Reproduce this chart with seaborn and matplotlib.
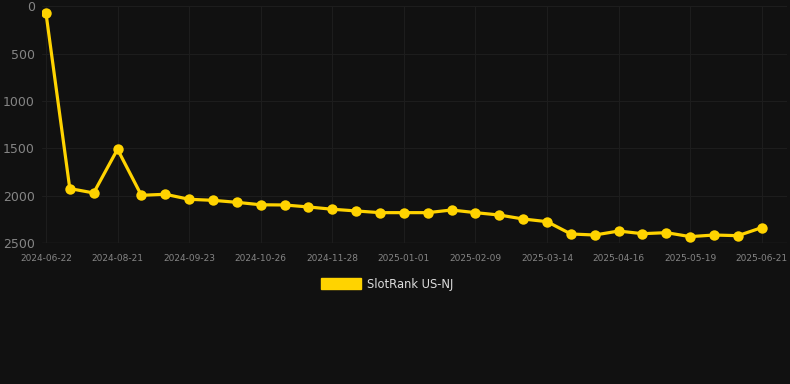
import pandas as pd
import numpy as np
import matplotlib.pyplot as plt
import seaborn as sns
from matplotlib.patches import Patch

# one point every ~3 weeks, only every third date is labelled on the chart
dates = [
    '2024-06-22', '2024-07-12', '2024-08-01', '2024-08-21', '2024-09-01', '2024-09-12',
    '2024-09-23', '2024-10-04', '2024-10-15', '2024-10-26', '2024-11-06', '2024-11-17',
    '2024-11-28', '2024-12-09', '2024-12-20', '2025-01-01', '2025-01-14', '2025-01-27',
    '2025-02-09', '2025-02-20', '2025-03-03', '2025-03-14', '2025-03-25', '2025-04-05',
    '2025-04-16', '2025-04-27', '2025-05-08', '2025-05-19', '2025-05-30', '2025-06-10',
    '2025-06-21',
]
ranks = [
    70, 1925, 1971, 1510, 1996, 1985, 2038, 2049, 2070, 2096,
    2098, 2119, 2143, 2161, 2179, 2179, 2179, 2151, 2179, 2204,
    2246, 2274, 2404, 2415, 2373, 2401, 2390, 2432, 2415, 2422,
    2337,
]
series_name = 'SlotRank US-NJ'

df = pd.DataFrame({'date': dates, 'rank': ranks})
df['pos'] = np.arange(len(df))

bg = '#111111'
gold = '#ffd300'
grid = '#1d1d1d'
txt = '#858585'

sns.set_style('dark')
plt.rcParams['font.family'] = ['DejaVu Sans']

fig = plt.figure(figsize=(7.9, 3.84), dpi=100, facecolor=bg)
ax = fig.add_axes([0.053, 0.367, 0.943, 0.617])
ax.set_facecolor(bg)

sns.lineplot(data=df, x='pos', y='rank', ax=ax, color=gold, linewidth=2.3,
             marker='o', markersize=7.5, markeredgewidth=0, legend=False)

ax.set_ylim(2500, 0)
ax.set_yticks([0, 500, 1000, 1500, 2000, 2500])
ax.set_xlim(-0.17, 31.05)
ax.set_xticks(df['pos'][::3])
ax.set_xticklabels(df['date'][::3])

ax.grid(True, color=grid, linewidth=0.8)
ax.set_axisbelow(True)
for s in ax.spines.values():
    s.set_visible(False)
ax.axhline(2500, color='#2a2a2a', linewidth=1, zorder=0)

ax.tick_params(axis='y', colors=txt, labelsize=9, length=0, pad=5)
ax.tick_params(axis='x', colors=txt, labelsize=6.5, length=0, pad=8)
ax.set_xlabel('')
ax.set_ylabel('')

handle = Patch(facecolor=gold, edgecolor=gold, label=series_name)
leg = fig.legend(handles=[handle], loc='center', bbox_to_anchor=(0.49, 0.26),
                 frameon=False, fontsize=8.3, handlelength=3.5, handleheight=1.1,
                 handletextpad=0.5)
for t in leg.get_texts():
    t.set_color('#dddddd')

fig.savefig('out.png', dpi=100, facecolor=bg)
